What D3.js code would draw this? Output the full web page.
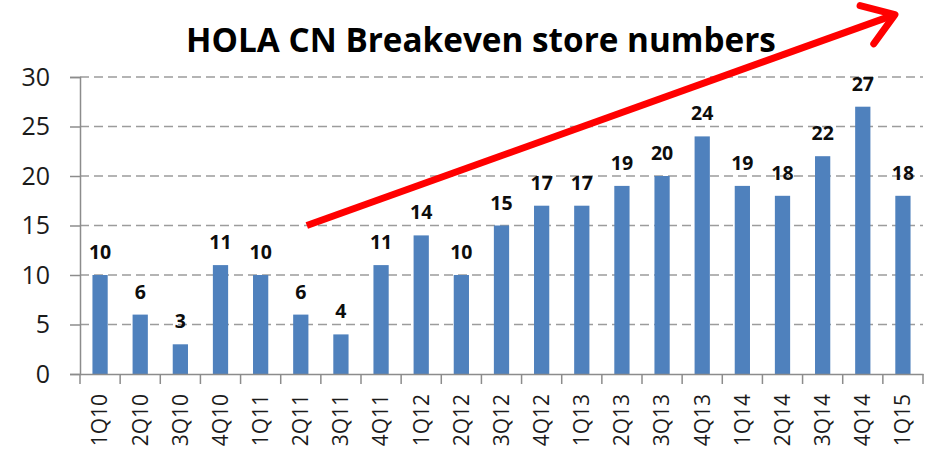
<!DOCTYPE html>
<html>
<head>
<meta charset="utf-8">
<script src="https://cdn.jsdelivr.net/npm/d3@7"></script>
<style>
  body { margin: 0; background: #fff; }
  svg { display: block; font-family: "Open Sans", "Noto Sans", sans-serif; }
</style>
</head>
<body>
<script>
const quarters = ["1Q10","2Q10","3Q10","4Q10","1Q11","2Q11","3Q11","4Q11","1Q12","2Q12","3Q12",
                  "4Q12","1Q13","2Q13","3Q13","4Q13","1Q14","2Q14","3Q14","4Q14","1Q15"];
const stores = [10, 6, 3, 11, 10, 6, 4, 11, 14, 10, 15, 17, 17, 19, 20, 24, 19, 18, 22, 27, 18];
const yTicks = [0, 5, 10, 15, 20, 25, 30];
const titleText = "HOLA CN Breakeven store numbers";
// trend arrow, in (category index, value) units
const trend = [{i: 5.65, v: 15.0}, {i: 20.3, v: 36.3}];

const width = 930, height = 455;
const margin = {top: 77, right: 7, bottom: 81, left: 80};

const svg = d3.select("body").append("svg")
    .attr("width", width)
    .attr("height", height);

const x = d3.scaleBand()
    .domain(quarters)
    .range([margin.left, width - margin.right])
    .paddingInner(0.62)
    .paddingOuter(0.31);

const y = d3.scaleLinear()
    .domain([0, 30])
    .range([height - margin.bottom, margin.top]);

// gridlines
svg.append("g")
    .selectAll("line")
    .data(yTicks.filter(d => d > 0))
    .join("line")
    .attr("x1", margin.left)
    .attr("x2", width - margin.right)
    .attr("y1", d => y(d))
    .attr("y2", d => y(d))
    .attr("stroke", "#9c9c9c")
    .attr("stroke-width", 1.4)
    .attr("stroke-dasharray", "9,5");

// bars
svg.append("g")
    .selectAll("rect")
    .data(stores)
    .join("rect")
    .attr("x", (d, i) => x(quarters[i]))
    .attr("y", d => y(d))
    .attr("width", x.bandwidth())
    .attr("height", d => y(0) - y(d))
    .attr("fill", "#4F81BD");

// value labels
svg.append("g")
    .selectAll("text")
    .data(stores)
    .join("text")
    .attr("x", (d, i) => x(quarters[i]) + x.bandwidth() / 2)
    .attr("y", d => y(d) - 16)
    .attr("text-anchor", "middle")
    .attr("font-size", 19.5)
    .attr("font-weight", "bold")
    .attr("fill", "#0d0d0d")
    .text(d => d);

// y axis
const yAxis = svg.append("g")
    .attr("transform", `translate(${margin.left},0)`)
    .call(d3.axisLeft(y).tickValues(yTicks).tickSize(10).tickPadding(20));
yAxis.select(".domain").attr("stroke", "#8c8c8c").attr("stroke-width", 1.5);
yAxis.selectAll(".tick line").attr("stroke", "#8c8c8c").attr("stroke-width", 1.5);
yAxis.selectAll("text")
    .attr("font-size", 25)
    .attr("font-family", "Open Sans, sans-serif")
    .attr("fill", "#1b1b1b");

// x axis
const xAxis = svg.append("g")
    .attr("transform", `translate(0,${y(0)})`)
    .call(d3.axisBottom(x).tickSize(0).tickPadding(0));
xAxis.select(".domain").attr("stroke", "#8c8c8c").attr("stroke-width", 1.5);
xAxis.selectAll(".tick text")
    .attr("font-size", 21)
    .attr("font-family", "Open Sans, sans-serif")
    .attr("fill", "#1b1b1b")
    .attr("text-anchor", "end")
    .attr("dy", "0.35em")
    .attr("transform", "translate(0,20) rotate(-90)");

// category boundary ticks
const step = x.step();
const x0 = x.range()[0];
xAxis.append("g")
    .selectAll("line")
    .data(d3.range(quarters.length + 1))
    .join("line")
    .attr("x1", i => x0 + i * step)
    .attr("x2", i => x0 + i * step)
    .attr("y1", 0)
    .attr("y2", 10)
    .attr("stroke", "#8c8c8c")
    .attr("stroke-width", 1.5);

// title
const title = svg.append("text")
    .attr("x", 481)
    .attr("y", 52)
    .attr("text-anchor", "middle")
    .attr("font-weight", "bold")
    .attr("font-size", 34)
    .attr("fill", "#000")
    .text(titleText);
const tw = title.node().getComputedTextLength();
title.attr("font-size", 34 * 590 / tw);

// trend arrow
const xi = d3.scaleLinear().domain([0, quarters.length]).range(x.range());
const ax1 = xi(trend[0].i), ay1 = y(trend[0].v);
const ax2 = xi(trend[1].i), ay2 = y(trend[1].v);
const ang = Math.atan2(ay2 - ay1, ax2 - ax1);
const headLen = 36, headAng = 0.6;

const arrow = svg.append("g")
    .attr("stroke", "#ff0000")
    .attr("stroke-width", 7)
    .attr("stroke-linecap", "round")
    .attr("stroke-linejoin", "round")
    .attr("fill", "none");
arrow.append("line")
    .attr("x1", ax1).attr("y1", ay1)
    .attr("x2", ax2).attr("y2", ay2)
    .attr("stroke-linecap", "butt");
arrow.append("path")
    .attr("d", d3.line()([
      [ax2 - headLen * Math.cos(ang - headAng), ay2 - headLen * Math.sin(ang - headAng)],
      [ax2, ay2],
      [ax2 - headLen * Math.cos(ang + headAng), ay2 - headLen * Math.sin(ang + headAng)]
    ]));
</script>
</body>
</html>
